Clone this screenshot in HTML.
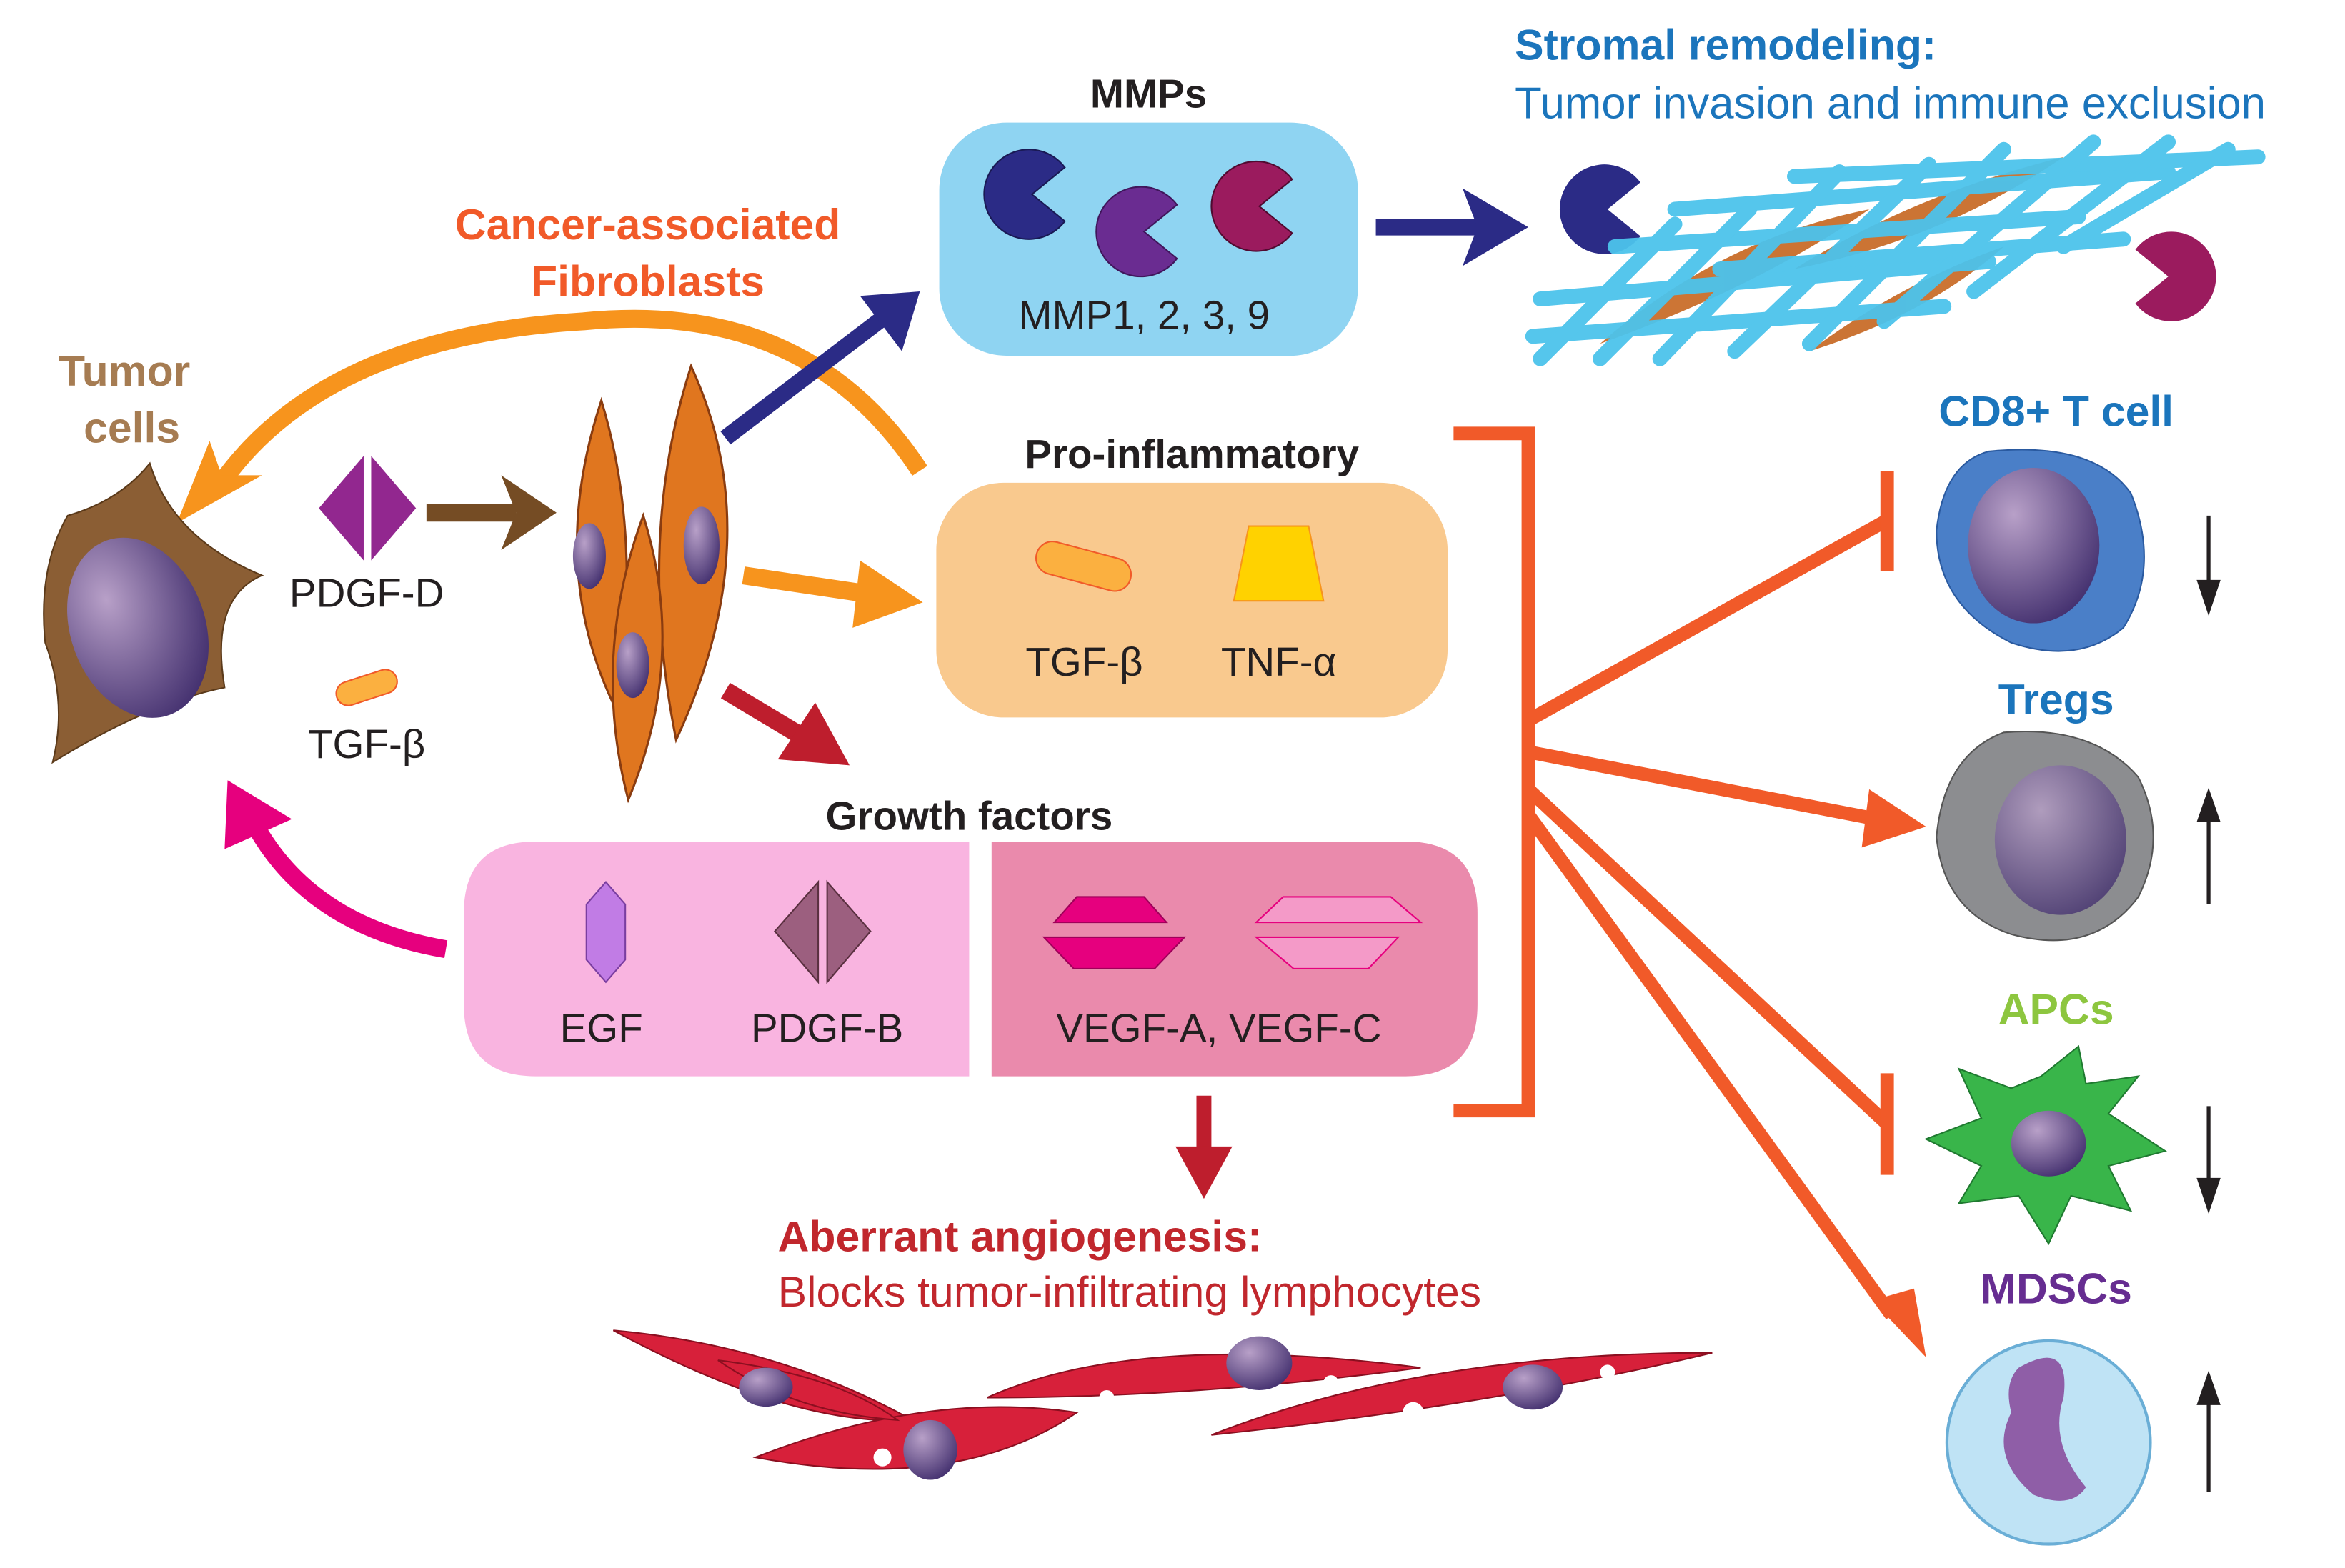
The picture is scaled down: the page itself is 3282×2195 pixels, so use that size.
<!DOCTYPE html>
<html><head><meta charset="utf-8"><style>
html,body{margin:0;padding:0;background:#fff}
svg{display:block}
text{font-family:"Liberation Sans",sans-serif}
</style></head><body>
<svg width="3282" height="2195" viewBox="0 0 1568 1049" xmlns="http://www.w3.org/2000/svg">
<defs>
<radialGradient id="nuc" cx="0.35" cy="0.3" r="0.8"><stop offset="0" stop-color="#b8a0c8"/><stop offset="1" stop-color="#3d2a6a"/></radialGradient>
</defs>
<rect width="1568" height="1049" fill="#fff"/>

<!-- MMPs -->
<text x="768" y="72" font-size="27" font-weight="bold" text-anchor="middle" fill="#231f20">MMPs</text>
<rect x="628" y="82" width="280" height="156" rx="45" fill="#8fd4f2"/>
<path d="M690,130 L712,112 A30,30 0 1 0 712,148 Z" fill="#2b2b86" stroke="#1a1a55"/>
<path d="M765,155 L787,137 A30,30 0 1 0 787,173 Z" fill="#6a2c91" stroke="#40165c"/>
<path d="M842,138 L864,120 A30,30 0 1 0 864,156 Z" fill="#9b1b5e" stroke="#500a30"/>
<text x="765" y="220" font-size="27" text-anchor="middle" fill="#231f20">MMP1, 2, 3, 9</text>
<line x1="920" y1="152" x2="990" y2="152" stroke="#2b2b86" stroke-width="11"/>
<path d="M978,126 L1022,152 L978,178 L988,152z" fill="#2b2b86"/>

<!-- Stromal -->
<text x="1013" y="40" font-size="29" font-weight="bold" fill="#1b75bc">Stromal remodeling:</text>
<text x="1013" y="79" font-size="29.5" fill="#1b75bc">Tumor invasion and immune exclusion</text>
<path d="M1075,140 L1097,122 A30,30 0 1 0 1097,158 Z" fill="#2b2b86"/>
<path d="M1450,185 L1428,167 A30,30 0 1 1 1428,203 Z" fill="#9b1b5e"/>
<g fill="#c6661f" opacity="0.9">
<path d="M1070,230 Q1150,160 1250,140 Q1180,190 1070,230z"/>
<path d="M1200,180 Q1280,130 1380,105 Q1300,160 1200,180z"/>
<path d="M1210,235 Q1270,190 1340,165 Q1290,210 1210,235z"/>
</g>
<g stroke="#4cc3ec" stroke-width="10" stroke-linecap="round" fill="none" opacity="0.95">
<line x1="1025" y1="225" x2="1300" y2="205"/>
<line x1="1030" y1="200" x2="1330" y2="175"/>
<line x1="1080" y1="165" x2="1390" y2="145"/>
<line x1="1120" y1="140" x2="1450" y2="115"/>
<line x1="1200" y1="118" x2="1510" y2="105"/>
<line x1="1150" y1="180" x2="1420" y2="160"/>
<line x1="1030" y1="240" x2="1120" y2="150"/>
<line x1="1070" y1="240" x2="1170" y2="140"/>
<line x1="1110" y1="240" x2="1230" y2="115"/>
<line x1="1160" y1="235" x2="1290" y2="110"/>
<line x1="1210" y1="230" x2="1340" y2="100"/>
<line x1="1260" y1="215" x2="1400" y2="95"/>
<line x1="1320" y1="195" x2="1450" y2="95"/>
<line x1="1380" y1="165" x2="1490" y2="100"/>
</g>

<!-- CAF labels -->
<text x="433" y="160" font-size="29" font-weight="bold" text-anchor="middle" fill="#f15a29">Cancer-associated</text>
<text x="433" y="198" font-size="29" font-weight="bold" text-anchor="middle" fill="#f15a29">Fibroblasts</text>
<text x="83" y="258" font-size="29" font-weight="bold" text-anchor="middle" fill="#a67c52">Tumor</text>
<text x="88" y="296" font-size="29" font-weight="bold" text-anchor="middle" fill="#a67c52">cells</text>

<!-- orange arc -->
<path d="M615,315 Q540,200 390,215 Q220,225 150,320" stroke="#f7941d" stroke-width="12" fill="none"/>
<path d="M118,350 L140,295 L148,318 L175,318z" fill="#f7941d"/>

<!-- tumor cell -->
<path d="M45,345 Q80,335 100,310 Q115,360 175,385 Q140,400 150,460 Q100,470 35,510 Q45,470 30,430 Q25,380 45,345z" fill="#8b5e34" stroke="#5b3a1a"/>
<ellipse cx="92" cy="420" rx="45" ry="62" transform="rotate(-20 92 420)" fill="url(#nuc)"/>

<!-- PDGF-D -->
<path d="M243,305 L243,375 L213,340z" fill="#92278f"/><path d="M248,305 L248,375 L278,340z" fill="#92278f"/>
<text x="245" y="406" font-size="27" text-anchor="middle" fill="#231f20">PDGF-D</text>
<line x1="285" y1="343" x2="345" y2="343" stroke="#754c24" stroke-width="12"/>
<path d="M335,318 L372,343 L335,368 L345,343z" fill="#754c24"/>
<rect x="224" y="452" width="42" height="16" rx="8" transform="rotate(-18 245 460)" fill="#fbb040" stroke="#f15a29"/>
<text x="245" y="507" font-size="27" text-anchor="middle" fill="#231f20">TGF-β</text>

<!-- fibroblasts -->
<g fill="#e0761f" stroke="#8a3c10" stroke-width="1.5">
<path d="M402,268 Q430,360 412,475 Q365,380 402,268z"/>
<path d="M462,245 Q515,360 452,495 Q425,360 462,245z"/>
<path d="M430,345 Q460,440 420,535 Q395,440 430,345z"/>
</g>
<ellipse cx="394" cy="372" rx="11" ry="22" fill="url(#nuc)"/>
<ellipse cx="469" cy="365" rx="12" ry="26" fill="url(#nuc)"/>
<ellipse cx="423" cy="445" rx="11" ry="22" fill="url(#nuc)"/>

<!-- arrows from CAF -->
<line x1="485" y1="293" x2="590" y2="213" stroke="#2b2b86" stroke-width="11"/>
<path d="M575,198 L615,195 L603,235z" fill="#2b2b86"/>
<line x1="497" y1="385" x2="585" y2="398" stroke="#f7941d" stroke-width="12"/>
<path d="M575,375 L617,403 L570,420z" fill="#f7941d"/>
<line x1="485" y1="462" x2="540" y2="495" stroke="#be1e2d" stroke-width="12"/>
<path d="M545,470 L568,512 L520,508z" fill="#be1e2d"/>

<!-- Pro-inflammatory -->
<text x="797" y="313" font-size="27" font-weight="bold" text-anchor="middle" fill="#231f20">Pro-inflammatory</text>
<rect x="626" y="323" width="342" height="157" rx="45" fill="#f9c98e"/>
<rect x="692" y="368" width="65" height="22" rx="11" transform="rotate(15 725 379)" fill="#fbb040" stroke="#f15a29"/>
<path d="M835,352 L875,352 L885,402 L825,402z" fill="#ffd200" stroke="#f7941d"/>
<text x="725" y="452" font-size="27" text-anchor="middle" fill="#231f20">TGF-β</text>
<text x="855" y="452" font-size="27" text-anchor="middle" fill="#231f20">TNF-α</text>

<!-- Growth factors -->
<text x="648" y="555" font-size="27" font-weight="bold" text-anchor="middle" fill="#231f20">Growth factors</text>
<path d="M358,563 L648,563 L648,720 L358,720 Q310,720 310,672 L310,611 Q310,563 358,563z" fill="#f9b4e0"/>
<path d="M663,563 L940,563 Q988,563 988,611 L988,672 Q988,720 940,720 L663,720z" fill="#ea8aac"/>
<path d="M405,590 L418,605 L418,642 L405,657 L392,642 L392,605z" fill="#c17ce5" stroke="#7a3ea0"/>
<path d="M547,590 L547,657 L518,623z" fill="#9c5f7f" stroke="#5a3040"/><path d="M553,590 L553,657 L582,623z" fill="#9c5f7f" stroke="#5a3040"/>
<path d="M720,600 L765,600 L780,617 L705,617z M698,627 L792,627 L772,648 L718,648z" fill="#e6007e" stroke="#a0005a"/>
<path d="M858,600 L930,600 L950,617 L840,617z M840,627 L935,627 L915,648 L865,648z" fill="#f49ac8" stroke="#e6007e"/>
<text x="402" y="697" font-size="27" text-anchor="middle" fill="#231f20">EGF</text>
<text x="553" y="697" font-size="27" text-anchor="middle" fill="#231f20">PDGF-B</text>
<text x="815" y="697" font-size="27" text-anchor="middle" fill="#231f20">VEGF-A, VEGF-C</text>

<!-- magenta arrow -->
<path d="M298,635 Q210,620 172,555" stroke="#e6007e" stroke-width="12" fill="none"/>
<path d="M152,522 L195,548 L150,568z" fill="#e6007e"/>

<!-- down red arrow -->
<line x1="805" y1="733" x2="805" y2="775" stroke="#be1e2d" stroke-width="10"/>
<path d="M786,767 L824,767 L805,802z" fill="#be1e2d"/>
<text x="520" y="837" font-size="29" font-weight="bold" fill="#c1272d">Aberrant angiogenesis:</text>
<text x="520" y="874" font-size="29" fill="#c1272d">Blocks tumor-infiltrating lymphocytes</text>

<!-- endothelial -->
<g fill="#d7203a" stroke="#8b0f20">
<path d="M410,890 Q520,900 610,950 Q530,955 410,890z"/>
<path d="M505,975 Q620,930 720,945 Q640,1000 505,975z"/>
<path d="M660,935 Q760,890 950,915 Q800,935 660,935z"/>
<path d="M810,960 Q950,905 1145,905 Q1000,940 810,960z"/>
<path d="M480,910 Q560,920 600,950 Q530,945 480,910z"/>
</g>
<ellipse cx="512" cy="928" rx="18" ry="13" fill="url(#nuc)"/>
<ellipse cx="622" cy="970" rx="18" ry="20" fill="url(#nuc)"/>
<ellipse cx="842" cy="912" rx="22" ry="18" fill="url(#nuc)"/>
<ellipse cx="1025" cy="928" rx="20" ry="15" fill="url(#nuc)"/>
<g fill="#fff"><circle cx="590" cy="975" r="6"/><circle cx="740" cy="935" r="5"/><circle cx="945" cy="945" r="7"/><circle cx="1075" cy="918" r="5"/><circle cx="890" cy="925" r="5"/></g>

<!-- bracket -->
<path d="M972,290 L1022,290 L1022,743 L972,743" stroke="#f15a29" stroke-width="9" fill="none"/>
<g stroke="#f15a29" stroke-width="9" fill="none">
<line x1="1022" y1="482" x2="1262" y2="348"/>
<line x1="1262" y1="315" x2="1262" y2="382"/>
<line x1="1022" y1="503" x2="1255" y2="548"/>
<line x1="1022" y1="528" x2="1262" y2="752"/>
<line x1="1262" y1="718" x2="1262" y2="786"/>
<line x1="1022" y1="545" x2="1265" y2="880"/>
</g>
<path d="M1250,528 L1288,553 L1245,567z" fill="#f15a29"/>
<path d="M1252,870 L1288,908 L1280,862z" fill="#f15a29"/>

<!-- cells -->
<text x="1375" y="285" font-size="29" font-weight="bold" text-anchor="middle" fill="#1b75bc">CD8+ T cell</text>
<path d="M1330,302 Q1400,295 1425,330 Q1445,380 1420,420 Q1390,445 1345,430 Q1295,405 1295,355 Q1300,310 1330,302z" fill="#4a7fc8" stroke="#2a5aa0"/>
<ellipse cx="1360" cy="365" rx="44" ry="52" fill="url(#nuc)"/>
<text x="1375" y="478" font-size="29" font-weight="bold" text-anchor="middle" fill="#1b75bc">Tregs</text>
<path d="M1340,490 Q1400,485 1430,520 Q1450,560 1430,600 Q1400,640 1345,625 Q1300,610 1295,560 Q1300,505 1340,490z" fill="#8c8d90" stroke="#555"/>
<ellipse cx="1378" cy="562" rx="44" ry="50" fill="url(#nuc)" opacity="0.8"/>
<text x="1375" y="685" font-size="29" font-weight="bold" text-anchor="middle" fill="#8dc63f">APCs</text>
<path d="M1365,720 L1390,700 L1395,725 L1430,720 L1410,745 L1448,770 L1410,780 L1425,810 L1385,800 L1370,832 L1350,800 L1310,805 L1325,780 L1288,762 L1325,748 L1310,715 L1345,728z" fill="#39b54a" stroke="#1f7a30"/>
<ellipse cx="1370" cy="765" rx="25" ry="22" fill="url(#nuc)"/>
<text x="1375" y="872" font-size="29" font-weight="bold" text-anchor="middle" fill="#662d91">MDSCs</text>
<circle cx="1370" cy="965" r="68" fill="#bfe3f5" stroke="#6aaed6" stroke-width="2"/>
<path d="M1350,915 Q1385,895 1380,935 Q1370,965 1395,995 Q1385,1010 1360,1000 Q1330,975 1345,945 Q1340,925 1350,915z" fill="#8a4f9e" opacity="0.9"/>

<!-- up/down arrows -->
<g stroke="#231f20" stroke-width="2.5">
<line x1="1477" y1="345" x2="1477" y2="395"/>
<line x1="1477" y1="545" x2="1477" y2="605"/>
<line x1="1477" y1="740" x2="1477" y2="795"/>
<line x1="1477" y1="935" x2="1477" y2="998"/>
</g>
<g fill="#231f20">
<path d="M1469,388 L1485,388 L1477,412z"/>
<path d="M1469,550 L1485,550 L1477,527z"/>
<path d="M1469,788 L1485,788 L1477,812z"/>
<path d="M1469,940 L1485,940 L1477,917z"/>
</g>
</svg>
</body></html>
